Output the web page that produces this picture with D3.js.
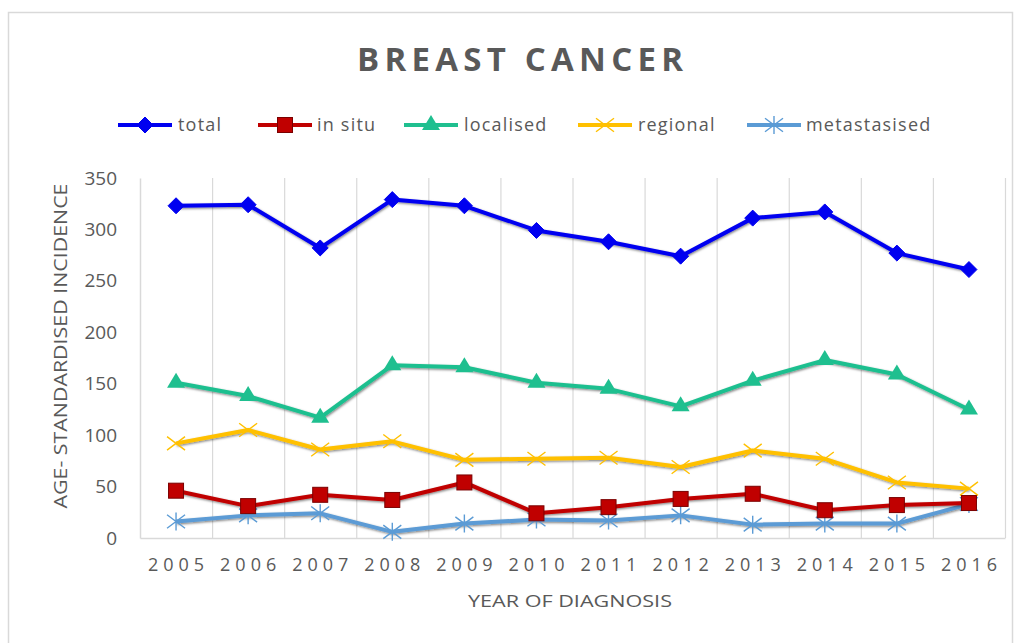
<!DOCTYPE html>
<html>
<head>
<meta charset="utf-8">
<script src="https://cdn.jsdelivr.net/npm/d3@7"></script>
<style>
  html, body { margin: 0; padding: 0; background: #fff; }
  svg { display: block; }
  text { font-family: "Open Sans", "Liberation Sans", sans-serif; fill: #595959; }
</style>
</head>
<body>
<svg id="chart" width="1019" height="643"></svg>
<script>
// Breast cancer incidence by stage, 2005–2016
const years = ["2005","2006","2007","2008","2009","2010","2011","2012","2013","2014","2015","2016"];
const total        = [323, 324, 282, 329, 323, 299, 288, 274, 311, 317, 277, 261];
const inSitu       = [46, 31, 42, 37, 54, 24, 30, 38, 43, 27, 32, 34];
const localised    = [151, 138, 117, 168, 166, 151, 145, 128, 153, 173, 159, 125];
const regional     = [92, 105, 86, 94, 76, 77, 78, 69, 85, 77, 54, 48];
const metastasised = [16, 22, 24, 6, 14, 18, 17, 22, 13, 14, 14, 33];
const yTicks = [0, 50, 100, 150, 200, 250, 300, 350];

const seriesNames  = ["total", "in situ", "localised", "regional", "metastasised"];
const seriesValues = [total, inSitu, localised, regional, metastasised];
const seriesColors = ["#0000f0", "#c00000", "#1fbf8f", "#ffc000", "#5b9bd5"];
const seriesMarks  = ["diamond", "square", "triangle", "x", "star"];

const svg = d3.select("#chart");

// outer frame
svg.append("rect").attr("x", 8.5).attr("y", 12.5).attr("width", 1004).attr("height", 640)
  .attr("fill", "none").attr("stroke", "#d9d9d9").attr("stroke-width", 1.5);

const x = d3.scaleBand().domain(years).range([140, 1005]).padding(0);
const y = d3.scaleLinear().domain([0, 350]).range([538, 178]);
const cx = d => x(d) + x.bandwidth() / 2;

// soft shadow under the lines
const defs = svg.append("defs");
const f = defs.append("filter").attr("id", "shadow").attr("x", "-5%").attr("y", "-20%").attr("width", "110%").attr("height", "140%");
f.append("feDropShadow").attr("dx", 0.8).attr("dy", 1.2).attr("stdDeviation", 0.8)
  .attr("flood-color", "#000").attr("flood-opacity", 0.5);

// vertical gridlines at category boundaries
const grid = svg.append("g");
years.forEach((yr, i) => {
  if (i === 0) return;
  grid.append("line").attr("x1", x(yr) + 0.5).attr("x2", x(yr) + 0.5)
    .attr("y1", y(350)).attr("y2", y(0)).attr("stroke", "#d9d9d9").attr("stroke-width", 1.2);
});
grid.append("line").attr("x1", 1005.5).attr("x2", 1005.5).attr("y1", y(350)).attr("y2", y(0))
  .attr("stroke", "#d9d9d9").attr("stroke-width", 1.2);

// axes
const xAxis = d3.axisBottom(x).tickSize(0).tickPadding(20);
const gx = svg.append("g").attr("transform", `translate(0,${y(0)})`).call(xAxis);
gx.select(".domain").attr("stroke", "#d9d9d9").attr("stroke-width", 1.5);
gx.selectAll("text").style("font-size", "18px").style("letter-spacing", "5px").attr("dx", "2.5px")
  .style("font-family", "'Open Sans', sans-serif").attr("fill", "#595959");

const yAxis = d3.axisLeft(y).tickValues(yTicks).tickSize(0).tickPadding(23);
const gy = svg.append("g").attr("transform", `translate(140,0)`).call(yAxis);
gy.select(".domain").attr("stroke", "#d9d9d9").attr("stroke-width", 1.5);
gy.selectAll("text").style("font-size", "19px").style("font-family", "'Open Sans', sans-serif").attr("fill", "#595959");

// title
svg.append("text").attr("x", 520).attr("y", 71).attr("text-anchor", "middle")
  .attr("textLength", 326).attr("lengthAdjust", "spacing")
  .style("font-size", "33px").style("font-weight", "bold").text("BREAST CANCER");

// axis titles
svg.append("text").attr("x", 570).attr("y", 607).attr("text-anchor", "middle")
  .style("font-size", "17px").attr("textLength", 204).attr("lengthAdjust", "spacingAndGlyphs")
  .text("YEAR OF DIAGNOSIS");
svg.append("text").attr("transform", "translate(67,346) rotate(-90)").attr("text-anchor", "middle")
  .style("font-size", "18px").attr("textLength", 325).attr("lengthAdjust", "spacingAndGlyphs")
  .text("AGE- STANDARDISED INCIDENCE");

// marker drawing
function drawMarker(g, type, color, px, py) {
  if (type === "diamond") {
    const s = 8;
    g.append("path").attr("d", `M${px},${py - s}L${px + s},${py}L${px},${py + s}L${px - s},${py}Z`)
      .attr("fill", color).attr("stroke", color).attr("stroke-width", 1);
  } else if (type === "square") {
    g.append("rect").attr("x", px - 7.5).attr("y", py - 7.5).attr("width", 15).attr("height", 15)
      .attr("fill", color).attr("stroke", "#7a0000").attr("stroke-width", 1);
  } else if (type === "triangle") {
    g.append("path").attr("d", `M${px},${py - 10}L${px + 9},${py + 5}L${px - 9},${py + 5}Z`)
      .attr("fill", color);
  } else if (type === "x") {
    const s = 9;
    g.append("path").attr("d", `M${px - s},${py - s * 0.75}L${px + s},${py + s * 0.75}M${px + s},${py - s * 0.75}L${px - s},${py + s * 0.75}`)
      .attr("stroke", color).attr("stroke-width", 1.4).attr("fill", "none");
  } else if (type === "star") {
    const s = 9;
    g.append("path").attr("d", `M${px - s},${py - s * 0.75}L${px + s},${py + s * 0.75}M${px + s},${py - s * 0.75}L${px - s},${py + s * 0.75}M${px},${py - s}L${px},${py + s}`)
      .attr("stroke", color).attr("stroke-width", 1.4).attr("fill", "none");
  }
}

// series lines, drawn so the total ends up on top
const line = d3.line().x((d, i) => cx(years[i])).y(d => y(d));
const order = [3, 2, 4, 1, 0];
order.forEach(k => {
  const g = svg.append("g");
  g.append("path").datum(seriesValues[k]).attr("d", line)
    .attr("fill", "none").attr("stroke", seriesColors[k]).attr("stroke-width", 4)
    .attr("stroke-linejoin", "round").attr("filter", "url(#shadow)");
  seriesValues[k].forEach((v, i) => drawMarker(g, seriesMarks[k], seriesColors[k], cx(years[i]), y(v)));
});

// legend
const legendItems = [
  { x: 118, tx: 178 },
  { x: 258, tx: 317 },
  { x: 404, tx: 464 },
  { x: 578, tx: 638 },
  { x: 747, tx: 806 }
];
const ly = 125;
legendItems.forEach((it, k) => {
  const g = svg.append("g");
  g.append("line").attr("x1", it.x).attr("x2", it.x + 54).attr("y1", ly).attr("y2", ly)
    .attr("stroke", seriesColors[k]).attr("stroke-width", 4);
  drawMarker(g, seriesMarks[k], seriesColors[k], it.x + 27, ly);
  g.append("text").attr("x", it.tx).attr("y", ly + 6).style("font-size", "18px")
    .style("letter-spacing", "1.2px").text(seriesNames[k]);
});
</script>
</body>
</html>
